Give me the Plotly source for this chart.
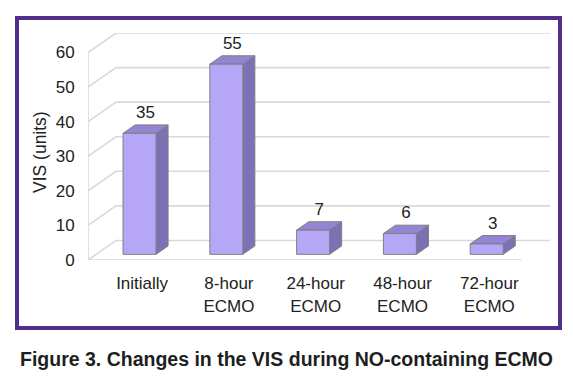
import plotly.graph_objects as go

categories = ["Initially", "8-hour<br>ECMO", "24-hour<br>ECMO", "48-hour<br>ECMO", "72-hour<br>ECMO"]
values = [35, 55, 7, 6, 3]
y_ticks = [0, 10, 20, 30, 40, 50, 60]

FONT = "Arial, Liberation Sans, sans-serif"
OFF = 8  # page body margin
W, H = 573 - OFF, 386 - OFF
ML, MR, MT, MB = 88 - OFF, 23, 33 - OFF, 126
PW, PH = W - ML - MR, H - MT - MB

n = len(categories)
DX = 0.323          # wall depth in x units
YMAX = max(y_ticks)
DY = 5.65           # wall depth in y units
f0, fd = 0.29, 0.43  # bar front depth fraction, bar depth fraction
BW = 0.38

fig = go.Figure()

# walls / gridlines
gx, gy = [], []
for t in y_ticks:
    gx += [-0.5, -0.5 + DX, n - 0.5 + DX, None]
    gy += [t, t + DY, t + DY, None]
gx += [-0.5, n - 0.5, None, -0.5, -0.5, None]
gy += [0, 0, None, 0, YMAX, None]
fig.add_trace(go.Scatter(x=gx, y=gy, mode="lines", line=dict(color="#d9d9d9", width=1.6),
                         hoverinfo="skip", showlegend=False))

ox, oy = f0 * DX, f0 * DY
ddx, ddy = fd * DX, fd * DY
fx, fy, tx, ty, sx, sy = [], [], [], [], [], []
lx, ly = [], []
for i, v in enumerate(values):
    x0 = i + ox - BW / 2
    x1 = x0 + BW
    y0 = oy
    y1 = oy + v
    fx += [x0, x1, x1, x0, x0, None]
    fy += [y0, y0, y1, y1, y0, None]
    tx += [x0, x1, x1 + ddx, x0 + ddx, x0, None]
    ty += [y1, y1, y1 + ddy, y1 + ddy, y1, None]
    sx += [x1, x1 + ddx, x1 + ddx, x1, x1, None]
    sy += [y0, y0 + ddy, y1 + ddy, y1, y0, None]
    lx.append(i + ox + ddx / 2)
    ly.append(y1 + ddy + 0.8)

edge = dict(color="#7f7f7f", width=1)
fig.add_trace(go.Scatter(x=sx, y=sy, fill="toself", fillcolor="#7d70b5", mode="lines",
                         line=edge, hoverinfo="skip", showlegend=False))
fig.add_trace(go.Scatter(x=tx, y=ty, fill="toself", fillcolor="#9485d4", mode="lines",
                         line=edge, hoverinfo="skip", showlegend=False))
fig.add_trace(go.Scatter(x=fx, y=fy, fill="toself", fillcolor="#b6a6f7", mode="lines",
                         line=edge, hoverinfo="skip", showlegend=False))
fig.add_trace(go.Scatter(x=lx, y=ly, mode="text", text=[str(v) for v in values],
                         textposition="top center", textfont=dict(family=FONT, size=17, color="#222"),
                         hoverinfo="skip", showlegend=False))

fig.update_layout(
    width=W, height=H, autosize=False,
    margin=dict(l=ML, r=MR, t=MT, b=MB),
    paper_bgcolor="white", plot_bgcolor="white",
    font=dict(family=FONT, size=17, color="#222"),
    xaxis=dict(range=[-0.5, n - 0.5 + DX], tickmode="array",
               tickvals=[i + ox + 0.03 for i in range(n)], ticktext=categories,
               showgrid=False, zeroline=False, showline=False,
               ticks="outside", ticklen=8, tickcolor="rgba(0,0,0,0)",
               tickfont=dict(family=FONT, size=17, color="#222"), fixedrange=True),
    yaxis=dict(range=[0, YMAX + DY], tickmode="array", tickvals=y_ticks,
               showgrid=False, zeroline=False, showline=False,
               ticks="outside", ticklen=9, tickcolor="rgba(0,0,0,0)",
               tickfont=dict(family=FONT, size=17, color="#222"), fixedrange=True),
    showlegend=False,
)

def px2paper_x(px):
    return (px - OFF - ML) / PW

def px2paper_y(py):
    return (H - MB - (py - OFF)) / PH

fig.add_shape(type="rect", xref="paper", yref="paper",
              x0=px2paper_x(17), x1=px2paper_x(560), y0=px2paper_y(328), y1=px2paper_y(18),
              line=dict(color="#512d8c", width=4), fillcolor="rgba(0,0,0,0)", layer="above")

fig.add_annotation(text="VIS (units)", xref="paper", yref="paper",
                   x=px2paper_x(40), y=px2paper_y(152), textangle=-90, showarrow=False,
                   font=dict(family=FONT, size=17.5, color="#222"), xanchor="center", yanchor="middle")

fig.add_annotation(text="<b>Figure 3. Changes in the VIS during NO-containing ECMO</b>",
                   xref="paper", yref="paper", x=px2paper_x(286), y=px2paper_y(359),
                   showarrow=False, font=dict(family=FONT, size=19.5, color="#1e1e1e"),
                   xanchor="center", yanchor="middle")

fig.write_html("out.html")
